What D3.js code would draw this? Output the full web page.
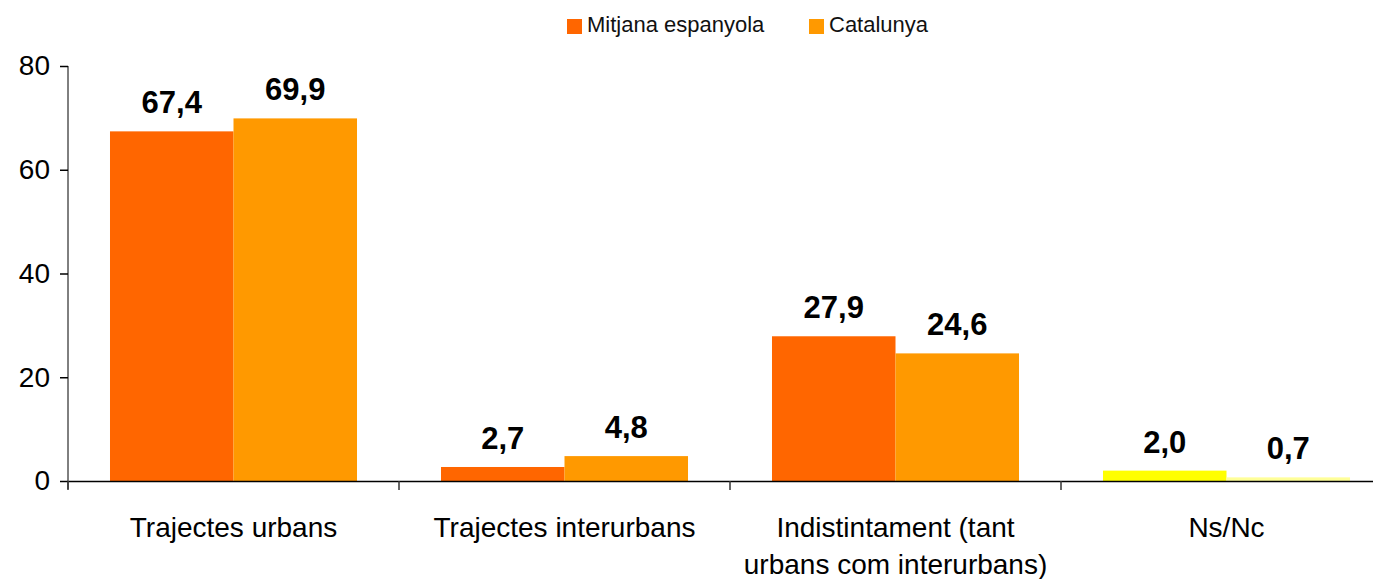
<!DOCTYPE html>
<html>
<head>
<meta charset="utf-8">
<script src="https://cdn.jsdelivr.net/npm/d3@7"></script>
<style>
  body { margin: 0; background: #fff; }
  svg { font-family: "Liberation Sans", Arial, sans-serif; display: block; }
  .axis path, .axis line { stroke: #000; }
</style>
</head>
<body>
<svg width="1373" height="579"></svg>
<script>
// categories and series
var categories = ["Trajectes urbans", "Trajectes interurbans", "Indistintament (tant|urbans com interurbans)", "Ns/Nc"];
var seriesNames = ["Mitjana espanyola", "Catalunya"];
var espanya = [67.4, 2.7, 27.9, 2.0];
var catalunya = [69.9, 4.8, 24.6, 0.7];
var yTicks = [0, 20, 40, 60, 80];
// the last group is drawn in yellows in the original
var colorsEspanya = ["#ff6600", "#ff6600", "#ff6600", "#ffff00"];
var colorsCatalunya = ["#ff9900", "#ff9900", "#ff9900", "#ffff99"];
var legendColors = ["#ff6600", "#ff9900"];

var svg = d3.select("svg"),
  margin = { top: 66, right: -19, bottom: 98, left: 68 },
  width = svg.attr("width") - margin.left - margin.right,
  height = svg.attr("height") - margin.top - margin.bottom;

var fmt = function(v) { return d3.format(".1f")(v).replace(".", ","); };

var x0 = d3.scaleBand().domain(categories).range([0, width]).paddingInner(0).paddingOuter(0);
var x1 = d3.scaleBand().domain(seriesNames).range([0, x0.bandwidth()]).paddingInner(0).paddingOuter(0.34);
var y = d3.scaleLinear().domain([0, 80]).range([height, 0]);

var g = svg.append("g").attr("transform", "translate(" + margin.left + "," + margin.top + ")");

var series = [
  { name: seriesNames[0], values: espanya, colors: colorsEspanya },
  { name: seriesNames[1], values: catalunya, colors: colorsCatalunya }
];

// bars
series.forEach(function(s) {
  g.selectAll(null)
    .data(categories)
    .enter()
    .append("rect")
    .attr("x", function(c) { return x0(c) + x1(s.name); })
    .attr("y", function(c, i) { return y(s.values[i]); })
    .attr("width", x1.bandwidth())
    .attr("height", function(c, i) { return height - y(s.values[i]); })
    .attr("fill", function(c, i) { return s.colors[i]; });

  g.selectAll(null)
    .data(categories)
    .enter()
    .append("text")
    .attr("x", function(c) { return x0(c) + x1(s.name) + x1.bandwidth() / 2; })
    .attr("y", function(c, i) { return y(s.values[i]) - 18; })
    .attr("text-anchor", "middle")
    .attr("font-size", 31)
    .attr("font-weight", "bold")
    .text(function(c, i) { return fmt(s.values[i]); });
});

// y axis
var yAxis = g.append("g")
  .attr("class", "axis")
  .call(d3.axisLeft(y).tickValues(yTicks).tickSize(8).tickPadding(10));
yAxis.selectAll("text").attr("font-size", 28).attr("fill", "#000");
yAxis.selectAll(".tick line").attr("stroke", "#777").attr("stroke-width", 1.5);
yAxis.select(".domain").attr("d", "M0," + y(80) + "V" + (height + 8));

// x axis
var xAxis = g.append("g")
  .attr("class", "axis")
  .attr("transform", "translate(0," + height + ")")
  .call(d3.axisBottom(x0).tickSize(0).tickFormat(""));
xAxis.select(".domain").attr("stroke-width", 1.5);

// tick marks at group boundaries
g.selectAll(null)
  .data(categories)
  .enter()
  .append("line")
  .attr("x1", function(c) { return x0(c); })
  .attr("x2", function(c) { return x0(c); })
  .attr("y1", height)
  .attr("y2", height + 9)
  .attr("stroke", "#333")
  .attr("stroke-width", 1.5);

// category labels
var catLabel = g.selectAll(null)
  .data(categories)
  .enter()
  .append("text")
  .attr("text-anchor", "middle")
  .attr("font-size", 28)
  .attr("transform", function(c) { return "translate(" + (x0(c) + x0.bandwidth() / 2) + "," + (height + 56) + ")"; });

catLabel.selectAll("tspan")
  .data(function(c) { return c.split("|"); })
  .enter()
  .append("tspan")
  .attr("x", 0)
  .attr("dy", function(d, i) { return i === 0 ? 0 : 37; })
  .text(function(d) { return d; });

// legend
var legendX = [567, 809];
var legend = svg.selectAll(".legend")
  .data(seriesNames)
  .enter()
  .append("g")
  .attr("class", "legend")
  .attr("transform", function(d, i) { return "translate(" + legendX[i] + ",19)"; });

legend.append("rect")
  .attr("width", 15)
  .attr("height", 15)
  .attr("fill", function(d, i) { return legendColors[i]; });

legend.append("text")
  .attr("x", 20)
  .attr("y", 13)
  .attr("font-size", 22)
  .attr("fill", "#111")
  .text(function(d) { return d; });
</script>
</body>
</html>
